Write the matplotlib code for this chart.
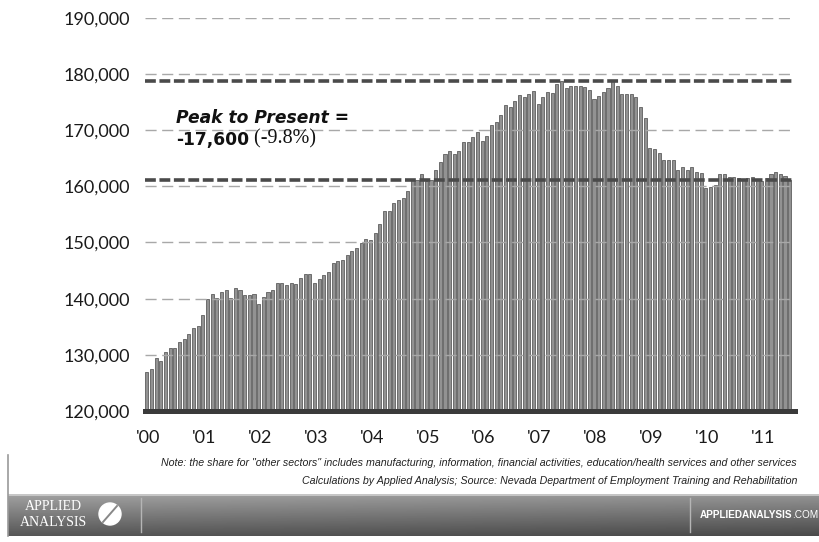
import numpy as np
import matplotlib.pyplot as plt
from matplotlib.patches import Circle

# ============= data =============
# monthly employment, Jan 2000 .. Jul 2011
values = [
    126900, 127400, 129400, 128950, 130500, 131200, 131200, 132250, 132850, 133700, 134750, 135100,
    137050, 139850, 140850, 140050, 141100, 141550, 140050, 141850, 141500, 140650, 140650, 140850,
    139100, 140300, 141250, 141500, 142750, 142700, 142350, 142800, 142570, 143650, 144350, 144450,
    142700, 143500, 144150, 144700, 146400, 146750, 146830, 147720, 148500, 149080, 149900, 150600,
    150400, 151600, 153200, 155650, 155650, 156950, 157600, 157950, 159150, 161150, 161150, 162150,
    160900, 161150, 162900, 164400, 165670, 166300, 165750, 166300, 167900, 167850, 168700, 169700,
    168050, 169000, 170820, 171350, 172600, 174450, 174080, 175100, 176200, 175850, 176400, 176900,
    174700, 175950, 176850, 176650, 178150, 178800, 177500, 177850, 177800, 177800, 177600, 177200,
    175450, 176050, 176700, 177400, 178800, 177900, 176450, 176450, 176450, 175850, 174050, 172200,
    166750, 166700, 166000, 164700, 164700, 164700, 162900, 163500, 162900, 163500, 162500, 162400,
    159750, 159800, 160300, 162200, 162200, 161700, 161700, 161400, 161300, 161400, 161600, 161300,
    161000, 161500, 162200, 162500, 162200, 161800, 161200,
]
year_labels = ["'00", "'01", "'02", "'03", "'04", "'05", "'06", "'07", "'08", "'09", "'10", "'11"]
y_ticks = [120000, 130000, 140000, 150000, 160000, 170000, 180000, 190000]
peak_value = 178800
present_value = 161200

note_1 = ('Note: the share for "other sectors" includes manufacturing, information, '
          'financial activities, education/health services and other services')
note_2 = ('Calculations by Applied Analysis; Source: Nevada Department of Employment '
          'Training and Rehabilitation')

# ============= chart =============
fig = plt.figure(figsize=(8.2, 5.42), dpi=100)
ax = fig.add_axes([145 / 820, 131 / 542, 650 / 820, 393.3 / 542])

x = np.arange(len(values))
ax.bar(x, values, width=0.66, color='#929292', edgecolor='#5e5e5e', linewidth=0.6, zorder=2)

ax.set_ylim(120000, 190000)
ax.set_xlim(-0.4, 139.15)

# gridlines drawn over the bars
for v in y_ticks[1:]:
    ax.axhline(v, color='#a8a8a8', lw=1.0, dashes=(8, 4), zorder=3)

# peak / present reference lines
for v in (peak_value, present_value):
    ln = ax.axhline(v, color='#4a4a4a', lw=2.6, zorder=4)
    ln.set_dashes((3.0, 1.0))

# thick base line
ax.axhline(120000, color='#3a3a3a', lw=3.6, zorder=5, clip_on=False)

ax.set_yticks(y_ticks)
ax.set_yticklabels([f'{v:,}' for v in y_ticks], fontfamily='Lato', fontsize=13, color='#1a1a1a')
ax.set_xticks(np.arange(len(year_labels)) * 12 + 0.3)
ax.set_xticklabels(year_labels, fontfamily='Lato', fontsize=13, color='#1a1a1a')
ax.tick_params(axis='y', length=0, pad=11)
ax.tick_params(axis='x', length=0, pad=14)
for s in ax.spines.values():
    s.set_visible(False)

# annotation
drop = present_value - peak_value
pct = drop / peak_value * 100
ax.text(6.3, 171250, 'Peak to Present =', fontfamily='DejaVu Sans', fontweight='bold',
        fontstyle='italic', fontsize=12.3, color='#111111', zorder=6)
bold_num = ax.text(6.3, 167350, f'-{abs(drop):,}', fontfamily='DejaVu Sans', fontweight='bold',
                   fontsize=12.3, color='#111111', zorder=6)
ax.annotate(f' ({pct:.1f}%)', xy=(1, 0), xycoords=bold_num, va='bottom', ha='left',
            fontfamily='Liberation Serif', fontsize=14.5, color='#111111', zorder=6)

# ============= footer =============
fig.text(797 / 820, 1 - 463 / 542, note_1, ha='right', va='center', fontsize=7.7,
         fontstyle='italic', family='Liberation Sans', color='#222222')
fig.text(797 / 820, 1 - 481 / 542, note_2, ha='right', va='center', fontsize=7.7,
         fontstyle='italic', family='Liberation Sans', color='#222222')

# left thin line
fig.add_artist(plt.Line2D([8 / 820, 8 / 820], [1 - 455 / 542, 1 - 536 / 542],
                          color='#9a9a9a', lw=1.2))

# banner with gradient
bax = fig.add_axes([8 / 820, 6 / 542, 812 / 820, 42 / 542])
gy = np.linspace(0, 1, 60)[:, None]
gx = np.linspace(0, 1, 200)[None, :]
grad = 0.64 - 0.30 * gy - 0.05 * gx
bax.imshow(grad, cmap='gray', vmin=0, vmax=1, aspect='auto', extent=(0, 812, 42, 0))
bax.set_xlim(0, 812)
bax.set_ylim(42, 0)
bax.axis('off')
bax.axhline(0.6, color='#cfcfcf', lw=1.2)
bax.plot([133, 133], [4, 38], color='#b5b5b5', lw=1)
bax.plot([682, 682], [4, 38], color='#b5b5b5', lw=1)
bax.text(45, 13, 'APPLIED', ha='center', va='center', color='white', fontsize=10,
         family='Liberation Serif')
bax.text(45, 28, 'ANALYSIS', ha='center', va='center', color='white', fontsize=10,
         family='Liberation Serif')
bax.add_patch(Circle((102, 20), 11, color='white', zorder=3))
bax.plot([95, 109], [28, 12], color='#888888', lw=1.4, zorder=4)
site = bax.text(692, 21, 'APPLIEDANALYSIS', ha='left', va='center', color='white',
                fontsize=7.2, family='Liberation Sans', fontweight='bold')
bax.annotate('.COM', xy=(1, 0), xycoords=site, ha='left', va='bottom', color='white',
             fontsize=7.2, family='Liberation Sans')

fig.savefig('out.png', dpi=100)
